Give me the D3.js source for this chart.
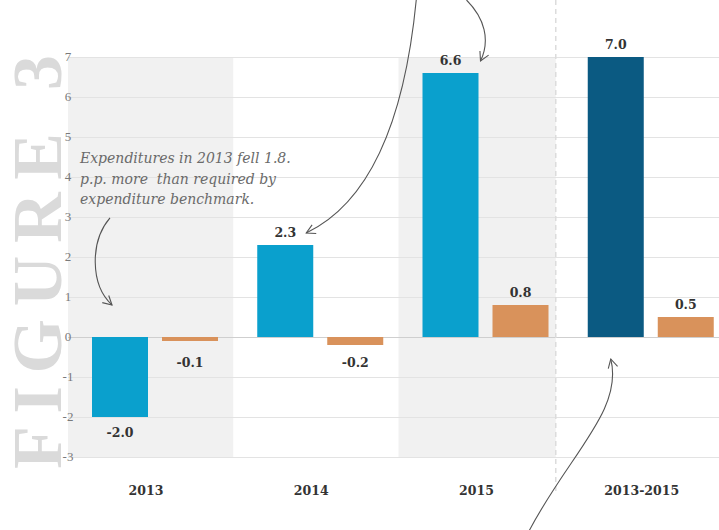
<!DOCTYPE html>
<html>
<head>
<meta charset="utf-8">
<script src="https://cdn.jsdelivr.net/npm/d3@7"></script>
<style>
  html, body { margin: 0; padding: 0; background: #fff; }
  svg { display: block; }
</style>
</head>
<body>
<svg id="chart" width="719" height="530"></svg>
<script>
// ---- data ----
const categories = ["2013", "2014", "2015", "2013-2015"];
const expenditureGrowth = [-2.0, 2.3, 6.6, 7.0];
const benchmarkDeviation = [-0.1, -0.2, 0.8, 0.5];
const yTicks = [-3, -2, -1, 0, 1, 2, 3, 4, 5, 6, 7];
const shadedCategories = ["2013", "2015"];
const annotationLines = ["Expenditures in 2013 fell 1.8.", "p.p. more  than required by", "expenditure benchmark."];
const figureLabel = "FIGURE 3";

// ---- setup ----
const W = 719, H = 530;
const svg = d3.select("#chart");
const x = d3.scaleBand().domain(categories).range([68, 729]).padding(0);
const inner = d3.scaleBand().domain(["a", "b"]).range([24, 150]).paddingInner(0.2).paddingOuter(0);
const y = d3.scaleLinear().domain([-3, 7]).range([457, 57]);

const blue = "#0aa0cd", darkBlue = "#0b5a82", orange = "#d9925b";
const serif = "'Liberation Serif', 'DejaVu Serif', serif";
const boldSerif = "'DejaVu Serif', 'Liberation Serif', serif";

// background bands
const dividerX = x("2013-2015") - 8;
svg.append("g").selectAll("rect").data(shadedCategories).join("rect")
  .attr("x", d => x(d))
  .attr("y", y(7))
  .attr("width", d => d === "2015" ? dividerX - x(d) : x.bandwidth())
  .attr("height", y(-3) - y(7))
  .attr("fill", "#f1f1f1");

// big FIGURE label
svg.append("text")
  .attr("transform", `translate(61, ${y(-3.3)}) rotate(-90)`)
  .attr("font-family", serif)
  .attr("font-weight", "bold")
  .attr("font-size", 70)
  .attr("fill", "#dadada")
  .attr("textLength", 414)
  .attr("lengthAdjust", "spacing")
  .text(figureLabel);

// gridlines
svg.append("g").selectAll("line").data(yTicks).join("line")
  .attr("x1", 68).attr("x2", W)
  .attr("y1", d => y(d) + 0.5).attr("y2", d => y(d) + 0.5)
  .attr("stroke", d => d === 0 ? "#cfcfcf" : "#e3e3e3")
  .attr("stroke-width", 1);

// y tick labels
svg.append("g").selectAll("text").data(yTicks).join("text")
  .attr("x", 68).attr("y", d => y(d) + 4)
  .attr("text-anchor", "middle")
  .attr("font-family", serif)
  .attr("font-size", 13)
  .attr("fill", "#7a7a7a")
  .text(d => d);

// dashed divider
svg.append("line")
  .attr("x1", dividerX).attr("x2", dividerX)
  .attr("y1", 0).attr("y2", 495)
  .attr("stroke", "#dcdcdc").attr("stroke-width", 1.5)
  .attr("stroke-dasharray", "5,4");

// bars
const rows = categories.map((c, i) => ({ c, a: expenditureGrowth[i], b: benchmarkDeviation[i] }));
const bars = [];
rows.forEach((r, i) => {
  bars.push({ c: r.c, k: "a", v: r.a, color: i === categories.length - 1 ? darkBlue : blue });
  bars.push({ c: r.c, k: "b", v: r.b, color: orange });
});
svg.append("g").selectAll("rect").data(bars).join("rect")
  .attr("x", d => x(d.c) + inner(d.k))
  .attr("width", inner.bandwidth())
  .attr("y", d => Math.min(y(d.v), y(0)))
  .attr("height", d => Math.abs(y(d.v) - y(0)))
  .attr("fill", d => d.color);

// value labels
svg.append("g").selectAll("text").data(bars).join("text")
  .attr("x", d => x(d.c) + inner(d.k) + inner.bandwidth() / 2)
  .attr("y", d => d.v >= 0 ? y(d.v) - 8 : Math.max(y(d.v) + 20, y(0) + 30))
  .attr("text-anchor", "middle")
  .attr("font-family", boldSerif)
  .attr("font-weight", "bold")
  .attr("font-size", 12.5)
  .attr("fill", "#333")
  .text(d => d.v.toFixed(1));

// category labels
svg.append("g").selectAll("text").data(categories).join("text")
  .attr("x", d => x(d) + 78)
  .attr("y", 495)
  .attr("text-anchor", "middle")
  .attr("font-family", boldSerif)
  .attr("font-weight", "bold")
  .attr("font-size", 12.5)
  .attr("fill", "#333")
  .text(d => d);

// annotation text
svg.append("g").selectAll("text").data(annotationLines).join("text")
  .attr("x", 80)
  .attr("y", (d, i) => 163 + i * 20.5)
  .attr("font-family", "'DejaVu Serif', serif")
  .attr("font-style", "italic")
  .attr("font-size", 14)
  .attr("fill", "#6a6a6a")
  .attr("xml:space", "preserve")
  .style("white-space", "pre")
  .text(d => d);

// curved arrows
function arrow(p0, c1, c2, p1) {
  const g = svg.append("g").attr("fill", "none").attr("stroke", "#555").attr("stroke-width", 1.1);
  const p = d3.path();
  p.moveTo(p0[0], p0[1]);
  p.bezierCurveTo(c1[0], c1[1], c2[0], c2[1], p1[0], p1[1]);
  g.append("path").attr("d", p.toString());
  const ang = Math.atan2(p1[1] - c2[1], p1[0] - c2[0]);
  const L = 10, spread = 0.5;
  const h = d3.path();
  h.moveTo(p1[0] - L * Math.cos(ang - spread), p1[1] - L * Math.sin(ang - spread));
  h.lineTo(p1[0], p1[1]);
  h.lineTo(p1[0] - L * Math.cos(ang + spread), p1[1] - L * Math.sin(ang + spread));
  g.append("path").attr("d", h.toString());
}
const x13 = x("2013"), x14 = x("2014"), x15 = x("2015"), xAll = x("2013-2015");
arrow([x13 + 42, y(2.98)], [x13 + 22, y(2.4)], [x13 + 22, y(1.3)], [x13 + 44, y(0.8)]);
arrow([x14 + 183, 0], [x14 + 172, y(5.6)], [x14 + 140, y(3.4)], [x14 + 73, y(2.6)]);
arrow([x15 + 68, 0], [x15 + 86, 18], [x15 + 92, 40], [x15 + 82, y(6.9)]);
arrow([x15 + 130, H + 2], [x15 + 170, 455], [xAll + 60, 410], [xAll + 47, y(-0.55)]);
</script>
</body>
</html>
